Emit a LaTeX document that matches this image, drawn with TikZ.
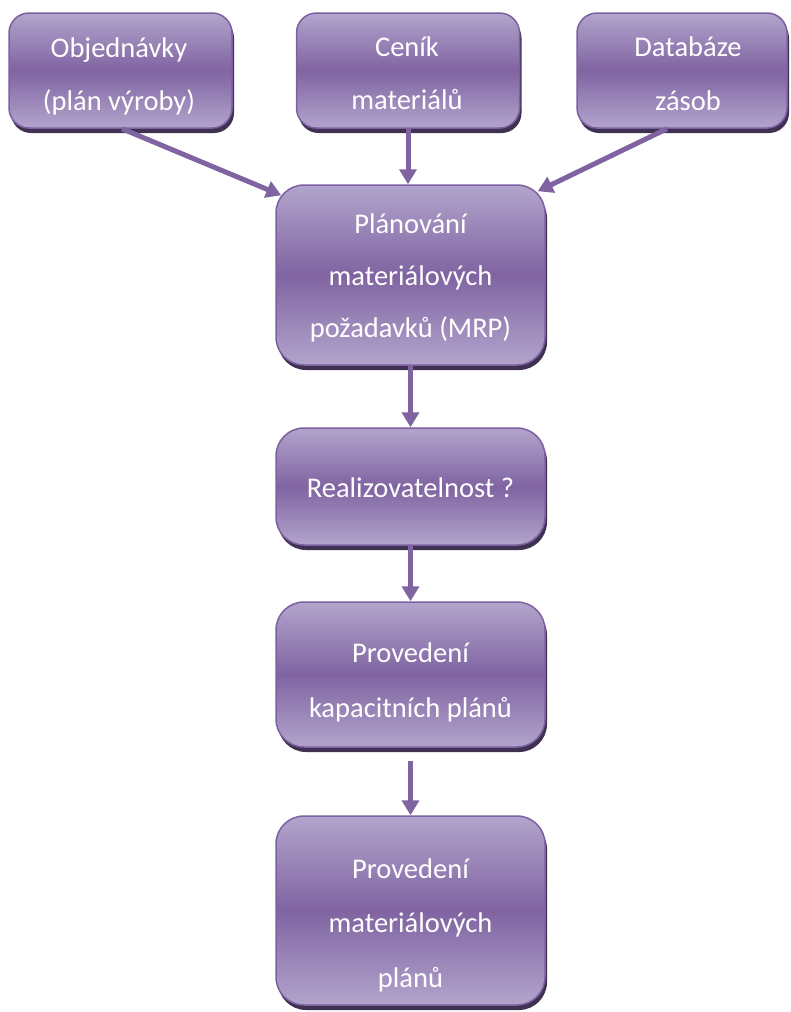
\documentclass[tikz,border=0pt]{standalone}
\usepackage{fontspec}
\setmainfont{Carlito}
\usetikzlibrary{arrows.meta,shadows,calc}
\definecolor{boxlight}{RGB}{178,164,204}
\definecolor{boxmid}{RGB}{128,100,162}
\definecolor{boxedge}{RGB}{125,96,160}
\definecolor{boxshadow}{RGB}{63,49,81}
\definecolor{arrowcol}{RGB}{128,100,162}
\begin{document}
\begin{tikzpicture}[x=1pt,y=-1pt,
  box/.style={draw=boxedge, line width=1.5pt, rounded corners=#1,
    top color=boxlight, bottom color=boxlight, middle color=boxmid,
    general shadow={fill=boxshadow, shadow xshift=2pt, shadow yshift=-5pt},
    inner sep=0pt},
  box/.default=28pt,
  txt/.style={text=white, font=\fontsize{28.5}{34}\selectfont, anchor=base, inner sep=0pt},
  conn/.style={draw=arrowcol, line width=5pt, -{Triangle[width=17pt,length=15pt]}}]
\path[use as bounding box, fill=white] (0,0) rectangle (790,1012);

% top row
\node[box=20pt, minimum width=223pt, minimum height=115pt] (obj) at (120.5,70.5) {};
\node[txt] at (119,57) {Objednávky};
\node[txt] at (119,110) {(plán výroby)};

\node[box=20pt, minimum width=223pt, minimum height=115pt] (cen) at (408,70.5) {};
\node[txt] at (407,56) {Ceník};
\node[txt] at (407,109) {materiálů};

\node[box=20pt, minimum width=210pt, minimum height=115pt] (dat) at (682,70.5) {};
\node[txt] at (688,56) {Databáze};
\node[txt] at (688,110) {zásob};

% main column
\node[box, minimum width=269pt, minimum height=180pt] (mrp) at (410.5,275) {};
\node[txt] at (410.5,233) {Plánování};
\node[txt] at (410.5,285) {materiálových};
\node[txt] at (410.5,337) {požadavků (MRP)};

\node[box, minimum width=269pt, minimum height=117pt] (real) at (410.5,486.5) {};
\node[txt] at (410.5,497) {Realizovatelnost ?};

\node[box, minimum width=269pt, minimum height=145pt] (kap) at (410.5,674.5) {};
\node[txt] at (410.5,662) {Provedení};
\node[txt] at (410.5,717) {kapacitních plánů};

\node[box, minimum width=269pt, minimum height=189pt] (mat) at (410.5,910.5) {};
\node[txt] at (410.5,878) {Provedení};
\node[txt] at (410.5,932) {materiálových};
\node[txt] at (410.5,987) {plánů};

% connectors
\draw[conn] ([xshift=1.5pt]obj.south) -- ([shift={(6,11)}]mrp.north west);
\draw[conn] (cen.south) -- (cen.south |- mrp.north);
\draw[conn] ([xshift=-15pt]dat.south) -- ([shift={(-8,7)}]mrp.north east);
\draw[conn] (mrp.south) -- (real.north);
\draw[conn] (real.south) -- (kap.north);
\draw[conn] ([yshift=-13pt]kap.south) -- (mat.north);
\end{tikzpicture}
\end{document}
